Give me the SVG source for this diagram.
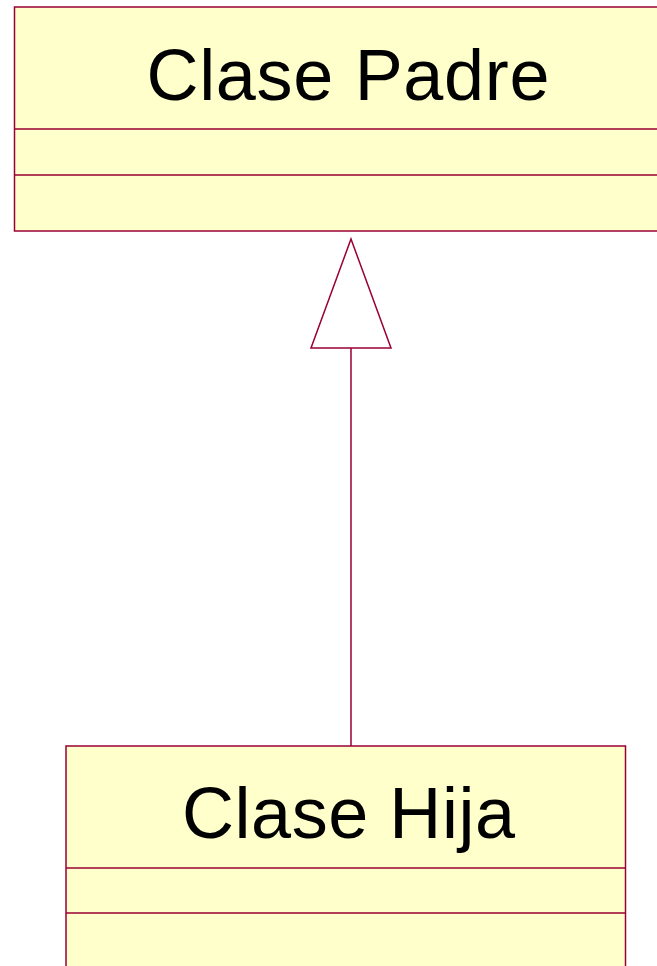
<svg xmlns="http://www.w3.org/2000/svg" width="657" height="966" viewBox="0 0 657 966">
  <style>
    .box { fill: #ffffcc; stroke: #990033; stroke-width: 1.5; }
    .sep { stroke: #990033; stroke-width: 1.5; fill: none; }
    .name { font-family: "Liberation Sans", Arial, sans-serif; font-size: 72px; fill: #000000; text-anchor: middle; }
    .edge { stroke: #990033; stroke-width: 1.5; fill: none; }
    .head { stroke: #990033; stroke-width: 1.5; fill: #ffffff; }
  </style>
  <rect width="657" height="966" fill="#ffffff"/>

  <!-- Parent class -->
  <g id="clase-padre">
    <rect class="box" x="14.5" y="7" width="660" height="224"/>
    <line class="sep" x1="14.5" y1="129" x2="660" y2="129"/>
    <line class="sep" x1="14.5" y1="175" x2="660" y2="175"/>
    <text class="name" x="348" y="100" textLength="403" lengthAdjust="spacing">Clase Padre</text>
  </g>

  <!-- Child class -->
  <g id="clase-hija">
    <rect class="box" x="66" y="746" width="559.5" height="240"/>
    <line class="sep" x1="66" y1="868" x2="625.5" y2="868"/>
    <line class="sep" x1="66" y1="913" x2="625.5" y2="913"/>
    <text class="name" x="348.5" y="838" textLength="333" lengthAdjust="spacing">Clase Hija</text>
  </g>

  <!-- Generalization connector -->
  <g id="connectors">
    <line class="edge" x1="351" y1="746" x2="351" y2="348"/>
    <polygon class="head" points="351,239 391,348 311,348"/>
  </g>
</svg>
